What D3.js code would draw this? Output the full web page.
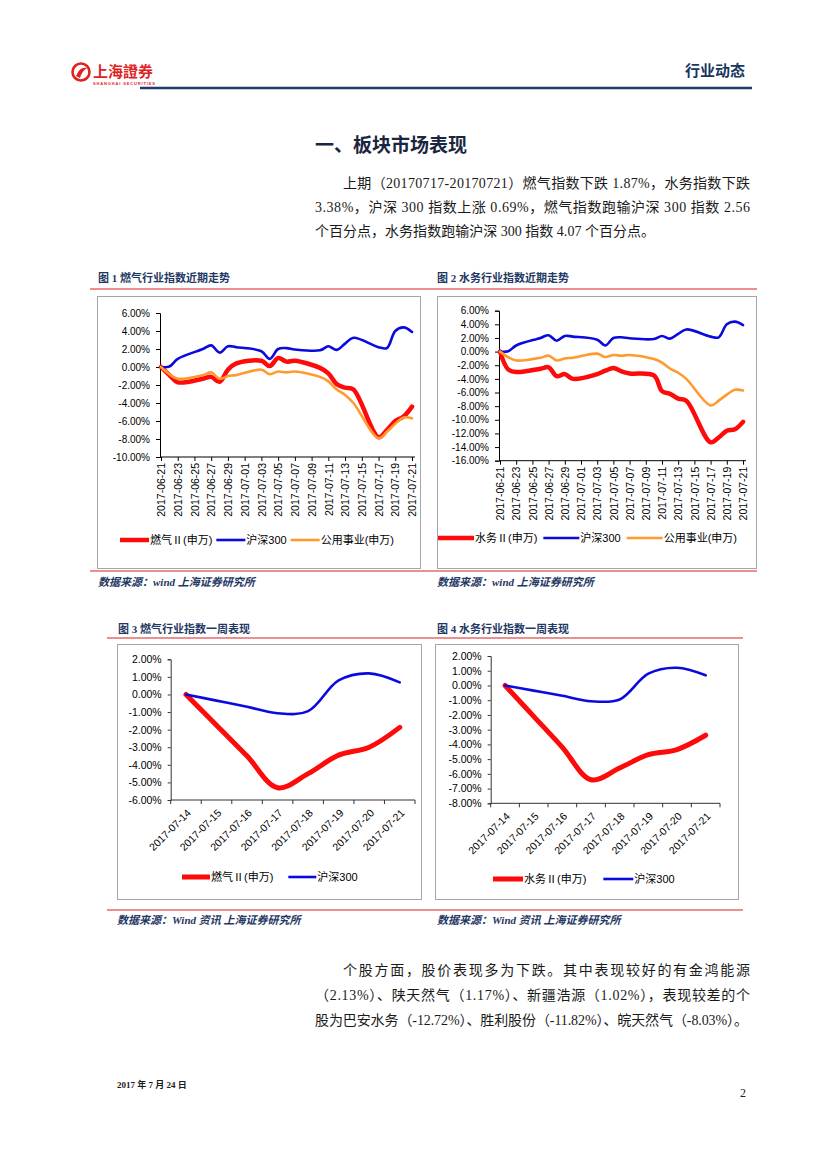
<!DOCTYPE html>
<html>
<head>
<meta charset="utf-8">
<script src="https://cdn.jsdelivr.net/npm/d3@7"></script>
<style>
  body { margin: 0; background: #fff; }
  svg { display: block; }
  .body-text { font-family: "Liberation Serif", "Noto Sans CJK SC", serif; font-size: 14px; fill: #1a1a1a; }
  .fig-title { font-family: "Liberation Serif", "Noto Sans CJK SC", serif; font-size: 11px; font-weight: bold; fill: #1f3864; }
  .source { font-family: "Liberation Serif", "Noto Sans CJK SC", serif; font-size: 11px; font-weight: bold; font-style: italic; fill: #1f3864; }
  .axis text { font-family: Arial, "Liberation Sans", sans-serif; font-size: 10px; fill: #000; }
  .legend text { font-family: Arial, "Liberation Sans", "Noto Sans CJK SC", sans-serif; font-size: 11px; fill: #000; }
</style>
</head>
<body>
<div id="page"></div>
<script>
////////////////////////////////////////////////////////////////////
////////////////////////////  Data  ////////////////////////////////
// 近期走势 (trading days 2017-06-21 .. 2017-07-21), %
const monthDates = [
  "2017-06-21", "2017-06-22", "2017-06-23", "2017-06-26", "2017-06-27", "2017-06-28",
  "2017-06-29", "2017-06-30", "2017-07-03", "2017-07-04", "2017-07-05", "2017-07-06",
  "2017-07-07", "2017-07-10", "2017-07-11", "2017-07-12", "2017-07-13", "2017-07-14",
  "2017-07-17", "2017-07-18", "2017-07-19", "2017-07-20", "2017-07-21"
];
const hs300Month = [0, 0.05, 0.9, 2.0, 2.4, 1.6, 2.3, 2.2, 1.75, 0.9, 2.0, 2.1,
  1.95, 1.85, 2.3, 1.9, 2.6, 3.25, 2.2, 2.1, 4.0, 4.4, 3.9];
const gasMonth = [0, -0.9, -1.7, -1.3, -1.1, -1.65, -0.3, 0.4, 0.7, 0.1, 1.0, 0.6,
  0.7, -0.1, -0.7, -1.9, -2.3, -2.5, -7.8, -7.0, -6.0, -5.5, -4.4];
const waterMonth = [0, -2.6, -3.0, -2.5, -2.3, -3.6, -3.3, -4.0, -3.3, -2.8, -2.4, -2.9,
  -3.2, -3.5, -5.8, -6.2, -6.9, -7.2, -13.3, -12.6, -11.6, -11.4, -10.3];
const utilityMonth = [0, -0.8, -1.3, -0.9, -0.6, -1.3, -1.0, -0.9, -0.3, -0.8, -0.5, -0.6,
  -0.5, -1.1, -1.6, -2.5, -3.1, -4.0, -7.9, -7.2, -6.3, -5.6, -5.7];
const monthTicks = [
  "2017-06-21", "2017-06-23", "2017-06-25", "2017-06-27", "2017-06-29", "2017-07-01",
  "2017-07-03", "2017-07-05", "2017-07-07", "2017-07-09", "2017-07-11", "2017-07-13",
  "2017-07-15", "2017-07-17", "2017-07-19", "2017-07-21"
];

// 一周表现, %
const weekDates = ["2017-07-14", "2017-07-15", "2017-07-16", "2017-07-17",
  "2017-07-18", "2017-07-19", "2017-07-20", "2017-07-21"];
const hs300Week = [0, -0.35, -0.7, -1.07, -0.95, 0.8, 1.2, 0.69];
const gasWeek = [0, -1.75, -3.5, -5.3, -4.5, -3.45, -3.0, -1.87];
const waterWeek = [0, -2.1, -4.2, -6.4, -5.6, -4.7, -4.35, -3.38];

const RED = "#ff0a0a";
const BLUE = "#0a0ae0";
const ORANGE = "#ff9a2c";
const SEP = "#e46a6a";

////////////////////////////////////////////////////////////////////
////////////////////////////  Page  ////////////////////////////////
const W = 827, H = 1169;
const svg = d3.select("#page").append("svg").attr("width", W).attr("height", H);
svg.append("rect").attr("width", W).attr("height", H).attr("fill", "#fff");

const parse = d3.timeParse("%Y-%m-%d");
const fmtDate = d3.timeFormat("%Y-%m-%d");
const fmtPct = (d) => d.toFixed(2) + "%";

// header: logo
const logo = svg.append("g");
logo.append("circle").attr("cx", 81).attr("cy", 72).attr("r", 8.5)
  .attr("fill", "none").attr("stroke", "#e0221f").attr("stroke-width", 2.6);
logo.append("path").attr("d", "M76,76 Q80,66 87,68 Q82,71 80,78 Z").attr("fill", "#e0221f");
logo.append("text").attr("x", 93).attr("y", 77)
  .style("font-family", "'Noto Sans CJK TC'").style("font-size", "15px")
  .style("font-weight", "bold").attr("fill", "#e0221f").text("上海證券");
logo.append("text").attr("x", 93).attr("y", 85)
  .style("font-family", "Arial").style("font-size", "4px").style("font-weight", "bold")
  .attr("fill", "#e0221f").attr("textLength", 62).text("SHANGHAI SECURITIES");

svg.append("line").attr("x1", 140).attr("x2", 752).attr("y1", 88).attr("y2", 88)
  .attr("stroke", "#1f3b6e").attr("stroke-width", 2.5);
svg.append("text").attr("x", 745).attr("y", 76).attr("text-anchor", "end")
  .style("font-family", "'Noto Sans CJK SC'").style("font-size", "15px")
  .style("font-weight", "bold").attr("fill", "#17375e").text("行业动态");

// section title
svg.append("text").attr("x", 315).attr("y", 152)
  .style("font-family", "'Noto Sans CJK SC'").style("font-size", "19px")
  .style("font-weight", "bold").attr("fill", "#1a2540").text("一、板块市场表现");

function paragraph(lines, y0, step) {
  lines.forEach((ln, i) => {
    const t = svg.append("text").attr("class", "body-text")
      .attr("x", ln.x).attr("y", y0 + i * step).text(ln.text);
    if (ln.w) t.attr("textLength", ln.w).attr("lengthAdjust", "spacing");
  });
}

paragraph([
  { x: 343, w: 407, text: "上期（20170717-20170721）燃气指数下跌 1.87%，水务指数下跌" },
  { x: 315, w: 435, text: "3.38%，沪深 300 指数上涨 0.69%，燃气指数跑输沪深 300 指数 2.56" },
  { x: 315, w: 340, text: "个百分点，水务指数跑输沪深 300 指数 4.07 个百分点。" }
], 188, 24);

paragraph([
  { x: 343, w: 407, text: "个股方面，股价表现多为下跌。其中表现较好的有金鸿能源" },
  { x: 315, w: 435, text: "（2.13%）、陕天然气（1.17%）、新疆浩源（1.02%），表现较差的个" },
  { x: 315, w: 433, text: "股为巴安水务（-12.72%）、胜利股份（-11.82%）、皖天然气（-8.03%）。" }
], 975, 25);

// figure titles, separators, sources
function label(cls, x, y, txt) {
  svg.append("text").attr("class", cls).attr("x", x).attr("y", y).text(txt);
}
function sep(x1, x2, y) {
  svg.append("line").attr("x1", x1).attr("x2", x2).attr("y1", y).attr("y2", y)
    .attr("stroke", SEP).attr("stroke-width", 1.5);
}
function box(x, y, w, h) {
  svg.append("rect").attr("x", x).attr("y", y).attr("width", w).attr("height", h)
    .attr("fill", "#fff").attr("stroke", "#a6a6a6").attr("stroke-width", 1);
}

label("fig-title", 98, 282, "图 1 燃气行业指数近期走势");
label("fig-title", 437, 282, "图 2 水务行业指数近期走势");
sep(90, 757, 289);
box(97.5, 296.5, 323, 272);
box(437.5, 296.5, 319, 272);
sep(90, 757, 571);
label("source", 98, 586, "数据来源：wind 上海证券研究所");
label("source", 437, 586, "数据来源：wind  上海证券研究所");

label("fig-title", 118, 633, "图  3  燃气行业指数一周表现");
label("fig-title", 437, 633, "图  4  水务行业指数一周表现");
sep(107, 743, 638);
box(117.5, 644.5, 304, 255);
box(435.5, 644.5, 303, 255);
sep(107, 743, 910);
label("source", 117, 924, "数据来源：Wind 资讯 上海证券研究所");
label("source", 437, 924, "数据来源：Wind 资讯 上海证券研究所");

// footer
svg.append("text").attr("x", 117).attr("y", 1088)
  .style("font-family", "'Liberation Serif', 'Noto Sans CJK SC'").style("font-size", "9px")
  .style("font-weight", "bold").attr("fill", "#1a1a1a").text("2017 年 7 月 24 日");
svg.append("text").attr("x", 746).attr("y", 1097).attr("text-anchor", "end")
  .style("font-family", "'Liberation Serif'").style("font-size", "12px")
  .attr("fill", "#222").text("2");

////////////////////////////////////////////////////////////////////
////////////////////////////  Charts  //////////////////////////////
function legend(g, items, cfg) {
  const lg = g.append("g").attr("class", "legend");
  let x = cfg.x;
  items.forEach((it) => {
    lg.append("line").attr("x1", x).attr("x2", x + cfg.len).attr("y1", cfg.y).attr("y2", cfg.y)
      .attr("stroke", it.color).attr("stroke-width", it.width);
    const t = lg.append("text").attr("x", x + cfg.len + 1).attr("y", cfg.y).attr("dy", "0.36em")
      .text(it.label);
    x = x + cfg.len + 1 + t.node().getComputedTextLength() + cfg.gap;
  });
}

function monthChart(cfg) {
  const g = svg.append("g");
  const dates = monthDates.map(parse);
  const x = d3.scaleTime().domain([parse("2017-06-21"), parse("2017-07-21")])
    .range([cfg.x0 + 1, cfg.x1]);
  const y = d3.scaleLinear().domain(cfg.domain).range([cfg.yb, cfg.yt]);

  const yAxis = d3.axisLeft(y).tickValues(cfg.yTicks).tickFormat(fmtPct)
    .tickSize(4).tickPadding(6);
  const ya = g.append("g").attr("class", "axis")
    .attr("transform", `translate(${cfg.x0},0)`).call(yAxis);

  const xAxis = d3.axisBottom(x).tickValues(monthTicks.map(parse))
    .tickFormat(fmtDate).tickSize(4).tickSizeOuter(0);
  const xa = g.append("g").attr("class", "axis")
    .attr("transform", `translate(0,${cfg.yb})`).call(xAxis);
  xa.select(".domain").attr("d", `M${cfg.x0},0H${cfg.x1 + 3}`);
  xa.selectAll("text")
    .attr("transform", "rotate(-90)")
    .attr("x", -6).attr("y", 0).attr("dy", "0.35em")
    .style("text-anchor", "end")
    .style("font-size", "10.5px");
  [ya, xa].forEach((a) => a.selectAll("path,line").attr("stroke", "#000"));

  const line = d3.line().x((d, i) => x(dates[i])).y((d) => y(d))
    .curve(d3.curveCatmullRom.alpha(0.5));
  cfg.series.forEach((s) => {
    g.append("path").datum(s.values).attr("d", line)
      .attr("fill", "none").attr("stroke", s.color).attr("stroke-width", s.width)
      .attr("stroke-linejoin", "round").attr("stroke-linecap", "round");
  });
  legend(g, cfg.series, cfg.legend);
}

function weekChart(cfg) {
  const g = svg.append("g");
  const x = d3.scaleBand().domain(weekDates).range([cfg.x0, cfg.x1]);
  const cx = (d) => x(d) + x.bandwidth() / 2;
  const y = d3.scaleLinear().domain(cfg.domain).range([cfg.yb, cfg.yt]);

  const ya = g.append("g").attr("class", "axis")
    .attr("transform", `translate(${cfg.x0},0)`)
    .call(d3.axisLeft(y).tickValues(cfg.yTicks).tickFormat(fmtPct).tickSize(3).tickPadding(6));
  ya.selectAll("path,line").attr("stroke", "#333");
  ya.selectAll("text").style("font-size", "10.5px");

  // category axis: ticks between categories
  const xa = g.append("g").attr("class", "axis").attr("transform", `translate(0,${cfg.yb})`);
  xa.append("line").attr("x1", cfg.x0).attr("x2", cfg.x1).attr("stroke", "#333");
  xa.selectAll(".tk").data(weekDates.map((d) => x(d)).concat([cfg.x1]))
    .enter().append("line").attr("class", "tk")
    .attr("x1", (d) => d).attr("x2", (d) => d).attr("y1", 0).attr("y2", 4)
    .attr("stroke", "#333");
  xa.selectAll(".lb").data(weekDates).enter().append("text").attr("class", "lb")
    .attr("transform", (d) => `translate(${cx(d) + 3},${11}) rotate(-45)`)
    .attr("dy", "0.35em").style("text-anchor", "end").style("font-size", "10.5px")
    .text((d) => d);

  const line = d3.line().x((d, i) => cx(weekDates[i])).y((d) => y(d))
    .curve(d3.curveCatmullRom.alpha(0.5));
  cfg.series.forEach((s) => {
    g.append("path").datum(s.values).attr("d", line)
      .attr("fill", "none").attr("stroke", s.color).attr("stroke-width", s.width)
      .attr("stroke-linejoin", "round").attr("stroke-linecap", "round");
  });
  legend(g, cfg.series, cfg.legend);
}

monthChart({
  x0: 160, x1: 412, yt: 313, yb: 457, domain: [-10, 6], yTicks: d3.range(-10, 7, 2),
  series: [
    { label: "燃气Ⅱ(申万)", values: gasMonth, color: RED, width: 4.5 },
    { label: "沪深300", values: hs300Month, color: BLUE, width: 2.6 },
    { label: "公用事业(申万)", values: utilityMonth, color: ORANGE, width: 2.6 }
  ],
  legend: { x: 120, y: 540, len: 29, gap: 4 }
});

monthChart({
  x0: 499, x1: 743, yt: 310.7, yb: 460.7, domain: [-16, 6], yTicks: d3.range(-16, 7, 2),
  series: [
    { label: "水务Ⅱ(申万)", values: waterMonth, color: RED, width: 4.5 },
    { label: "沪深300", values: hs300Month, color: BLUE, width: 2.6 },
    { label: "公用事业(申万)", values: utilityMonth, color: ORANGE, width: 2.6 }
  ],
  legend: { x: 438, y: 538, len: 36, gap: 6 }
});

weekChart({
  x0: 170.7, x1: 415, yt: 659.3, yb: 800, domain: [-6, 2], yTicks: d3.range(-6, 3, 1),
  series: [
    { label: "燃气Ⅱ(申万)", values: gasWeek, color: RED, width: 5 },
    { label: "沪深300", values: hs300Week, color: BLUE, width: 2.6 }
  ],
  legend: { x: 182, y: 877, len: 28, gap: 15 }
});

weekChart({
  x0: 490.7, x1: 720, yt: 656, yb: 803.3, domain: [-8, 2], yTicks: d3.range(-8, 3, 1),
  series: [
    { label: "水务Ⅱ(申万)", values: waterWeek, color: RED, width: 5 },
    { label: "沪深300", values: hs300Week, color: BLUE, width: 2.6 }
  ],
  legend: { x: 493, y: 879, len: 30, gap: 17 }
});
</script>
</body>
</html>
